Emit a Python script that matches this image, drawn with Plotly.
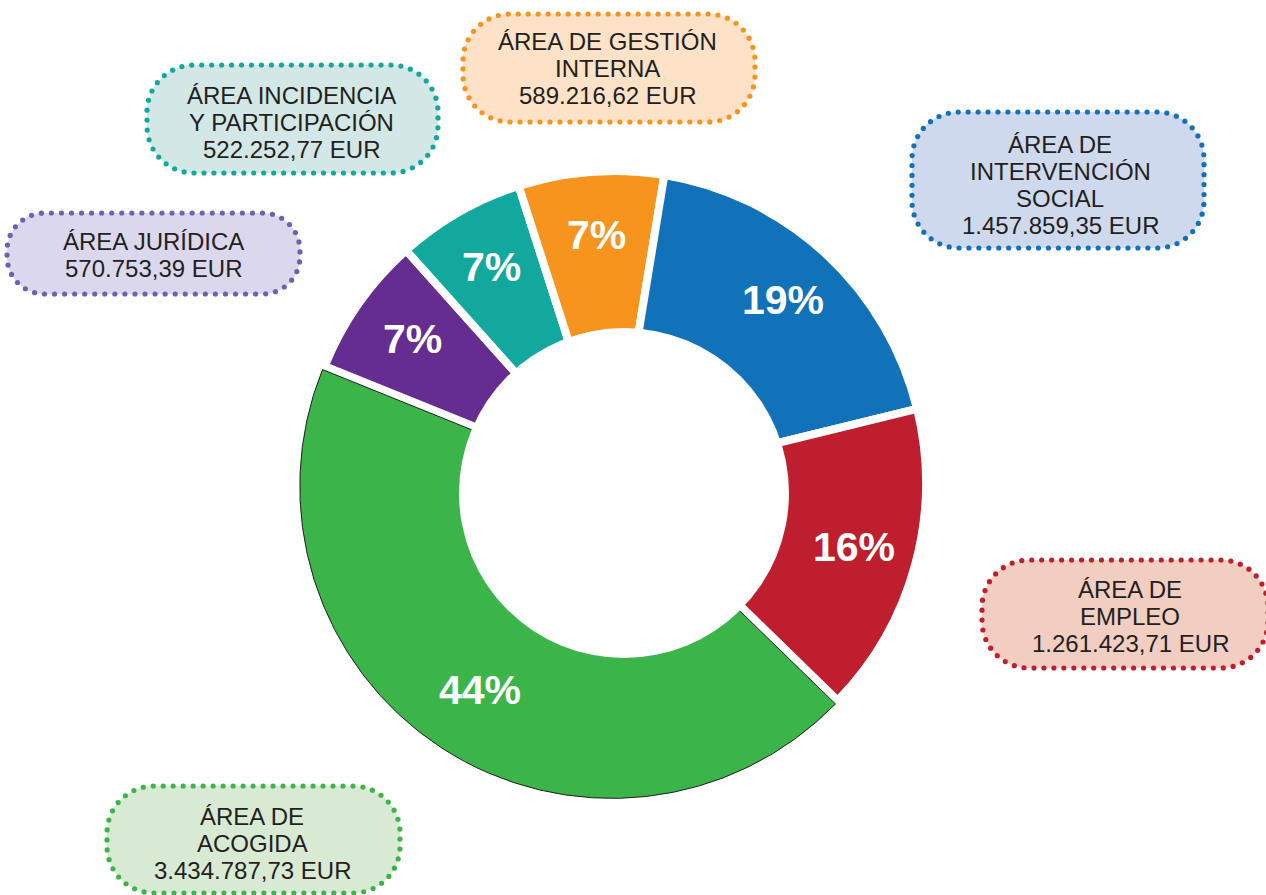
import numpy as np
import plotly.graph_objects as go

# ---- data (clockwise order, starting with the purple slice) ----
areas = ["ÁREA JURÍDICA", "ÁREA INCIDENCIA Y PARTICIPACIÓN", "ÁREA DE GESTIÓN INTERNA",
         "ÁREA DE INTERVENCIÓN SOCIAL", "ÁREA DE EMPLEO", "ÁREA DE ACOGIDA"]
amounts = [570753.39, 522252.77, 589216.62, 1457859.35, 1261423.71, 3434787.73]
pct_labels = ["7%", "7%", "7%", "19%", "16%", "44%"]
box_titles = [
    ["ÁREA JURÍDICA"],
    ["ÁREA INCIDENCIA", "Y PARTICIPACIÓN"],
    ["ÁREA DE GESTIÓN", "INTERNA"],
    ["ÁREA DE", "INTERVENCIÓN", "SOCIAL"],
    ["ÁREA DE", "EMPLEO"],
    ["ÁREA DE", "ACOGIDA"],
]

slice_colors = ["#652d90", "#13a89e", "#f7941d", "#1172b9", "#be1e2d", "#3bb54a"]
box_fills = ["#dbd8ee", "#d3e8e6", "#fde2c7", "#cfd9ee", "#f2cdc1", "#d8ead3"]
dot_colors = ["#6b63b0", "#13a89e", "#f7941d", "#1172b9", "#be1e2d", "#3bb54a"]

# box rectangles in page pixels (x0, y0, x1, y1) and text centre / first line y
box_rects = [(7, 213, 300, 294), (147, 65, 438, 173), (463, 14, 755, 122),
             (912, 112, 1204, 248), (982, 560, 1268, 668), (107, 786, 400, 893)]
text_pos = [(153, 241.5), (291, 95), (607, 41.5), (1060, 144), (1130, 589), (252, 816)]
LINE_GAP = 27
FONT = "Liberation Sans, Arial, sans-serif"

W, H = 1266, 895
ROTATION = 292


def eur(v):
    s = f"{v:,.2f}"
    return s.replace(",", "X").replace(".", ",").replace("X", ".") + " EUR"


def pill_outline(x0, y0, x1, y1, r):
    # dense outline of a rounded rectangle
    pts = []
    corners = [((x1 - r, y0 + r), -90), ((x1 - r, y1 - r), 0),
               ((x0 + r, y1 - r), 90), ((x0 + r, y0 + r), 180)]
    for (cx, cy), a0 in corners:
        for a in np.linspace(a0, a0 + 90, 40):
            t = np.radians(a)
            pts.append((cx + r * np.cos(t), cy + r * np.sin(t)))
    pts.append(pts[0])
    pts = np.array(pts)
    seg = np.hypot(np.diff(pts[:, 0]), np.diff(pts[:, 1]))
    s = np.concatenate([[0], np.cumsum(seg)])
    return pts, s


fig = go.Figure()

shapes = []
annotations = []
for i, (x0, y0, x1, y1) in enumerate(box_rects):
    r = min(47, (y1 - y0) / 2 - 3)
    pts, s = pill_outline(x0, y0, x1, y1, r)
    path = "M " + " L ".join(f"{x:.1f},{y:.1f}" for x, y in pts) + " Z"
    shapes.append(dict(type="path", path=path, xref="x", yref="y",
                       fillcolor=box_fills[i], line=dict(width=0), layer="below"))
    L = s[-1]
    nd = int(round(L / 10))
    sd = np.arange(nd) * L / nd
    dx = np.interp(sd, s, pts[:, 0])
    dy = np.interp(sd, s, pts[:, 1])
    fig.add_trace(go.Scatter(x=dx, y=dy, mode="markers", hoverinfo="skip",
                             marker=dict(size=5.2, color=dot_colors[i]),
                             showlegend=False))
    lines = box_titles[i] + [eur(amounts[i])]
    tx, ty = text_pos[i]
    for k, ln in enumerate(lines):
        annotations.append(dict(x=tx, y=ty + k * LINE_GAP, xref="x", yref="y",
                                text=ln, showarrow=False, xanchor="center",
                                yanchor="middle",
                                font=dict(size=24, color="#231f20", family=FONT)))

# donut
cx, cy, R, pull_g = 614, 483, 312, 0.013
half = R * (1 + pull_g)
fig.add_trace(go.Pie(
    values=amounts, labels=areas, textinfo="none",
    sort=False, direction="clockwise", rotation=ROTATION, hole=0.45,
    pull=[0, 0, 0, 0, 0, pull_g],
    marker=dict(colors=slice_colors,
                line=dict(color=["white"] * 5 + ["#231f20"], width=[8] * 5 + [1])),
    domain=dict(x=[(cx - half) / W, (cx + half) / W],
                y=[(H - cy - half) / H, (H - cy + half) / H]),
    hoverinfo="skip", showlegend=False,
))

# percentage labels, placed on each slice's mid angle
tot = sum(amounts)
start = ROTATION
for v, lab in zip(amounts, pct_labels):
    mid = np.radians(start + 360 * v / tot / 2)
    start += 360 * v / tot
    annotations.append(dict(x=615 + 248 * np.sin(mid), y=482 - 248 * np.cos(mid),
                            xref="x", yref="y", text=lab, showarrow=False,
                            xanchor="center", yanchor="middle",
                            font=dict(size=41, color="white", family=FONT,
                                      weight="bold")))

# white centre (slightly off the outer circle's centre, as in the original)
shapes.append(dict(type="circle", xref="x", yref="y", x0=624 - 165, x1=624 + 165,
                   y0=493 - 165, y1=493 + 165, fillcolor="white",
                   line=dict(width=0), layer="above"))

fig.update_layout(
    width=W, height=H, margin=dict(l=0, r=0, t=0, b=0),
    paper_bgcolor="white", plot_bgcolor="white",
    xaxis=dict(range=[0, W], visible=False, fixedrange=True),
    yaxis=dict(range=[H, 0], visible=False, fixedrange=True),
    shapes=shapes, annotations=annotations,
)

fig.write_html("out.html", config={"displayModeBar": False},
               post_script="document.body.style.margin='0';")
